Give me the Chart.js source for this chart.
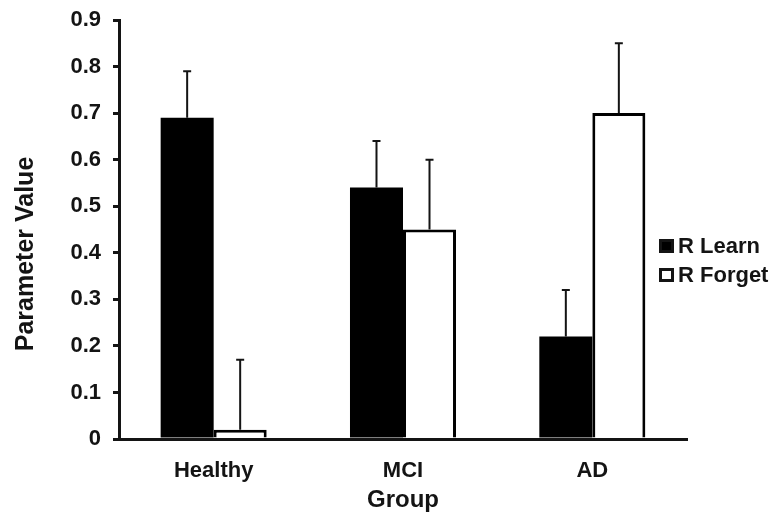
<!DOCTYPE html>
<html lang="en">
<head>
    <meta charset="UTF-8">
    <title>Parameter Value by Group</title>
    <script src="https://cdn.jsdelivr.net/npm/chart.js"></script>
    <style>
        html, body { margin: 0; padding: 0; background: #fff; }
        #wrap { width: 783px; height: 517px; }
    </style>
</head>
<body>
    <div id="wrap"><canvas id="barChart"></canvas></div>

    <script>
        // data
        const groups = ['Healthy', 'MCI', 'AD'];
        const learnValues = [0.69, 0.54, 0.22];
        const learnErrors = [0.10, 0.10, 0.10];
        const forgetValues = [0.02, 0.45, 0.70];
        const forgetErrors = [0.15, 0.15, 0.15];
        const yTicks = [0, 0.1, 0.2, 0.3, 0.4, 0.5, 0.6, 0.7, 0.8, 0.9];
        const yTitle = 'Parameter Value';

        const FONT = '"Liberation Sans", Arial, sans-serif';
        const INK = '#141414';

        // upward error bars with a small cap
        const errorBars = {
            id: 'errorBars',
            afterDatasetsDraw(chart) {
                const ctx = chart.ctx;
                const yScale = chart.scales.y;
                chart.data.datasets.forEach((ds, i) => {
                    const meta = chart.getDatasetMeta(i);
                    meta.data.forEach((bar, j) => {
                        const top = yScale.getPixelForValue(ds.data[j] + ds.errors[j]);
                        ctx.save();
                        ctx.strokeStyle = INK;
                        ctx.lineWidth = 2;
                        ctx.beginPath();
                        ctx.moveTo(bar.x, bar.y);
                        ctx.lineTo(bar.x, top);
                        ctx.moveTo(bar.x - 4, top);
                        ctx.lineTo(bar.x + 4, top);
                        ctx.stroke();
                        ctx.restore();
                    });
                });
            }
        };

        // legend and y title drawn by hand so they sit where the figure has them
        const extras = {
            id: 'extras',
            afterDraw(chart) {
                const ctx = chart.ctx;
                const x = 659, y0 = 246, gap = 29;
                ctx.save();
                ctx.font = 'bold 22px ' + FONT;
                ctx.textBaseline = 'middle';
                chart.data.datasets.forEach((ds, i) => {
                    const y = y0 + i * gap;
                    ctx.fillStyle = INK;
                    ctx.fillRect(x, y - 7, 15, 14);
                    ctx.fillStyle = ds.backgroundColor;
                    ctx.fillRect(x + 3, y - 4, 9, 8);
                    ctx.fillStyle = INK;
                    ctx.fillText(ds.label, x + 19, y + 1);
                });

                ctx.translate(25, 254);
                ctx.rotate(-Math.PI / 2);
                ctx.textAlign = 'center';
                ctx.font = 'bold 25px ' + FONT;
                ctx.fillText(yTitle, 0, 1);
                ctx.restore();
            }
        };

        const ctx = document.getElementById('barChart').getContext('2d');
        const chart = new Chart(ctx, {
            type: 'bar',
            data: {
                labels: groups,
                datasets: [{
                    label: 'R Learn',
                    data: learnValues,
                    errors: learnErrors,
                    backgroundColor: '#000',
                    borderColor: '#000',
                    borderWidth: 0
                }, {
                    label: 'R Forget',
                    data: forgetValues,
                    errors: forgetErrors,
                    backgroundColor: '#fff',
                    borderColor: '#000',
                    borderWidth: 3
                }]
            },
            options: {
                responsive: true,
                maintainAspectRatio: false,
                animation: false,
                layout: { padding: { left: 0, top: 20, right: 96, bottom: 0 } },
                datasets: { bar: { categoryPercentage: 0.56, barPercentage: 1 } },
                plugins: {
                    legend: { display: false },
                    tooltip: { enabled: false }
                },
                scales: {
                    x: {
                        grid: { display: false },
                        border: { color: INK, width: 3 },
                        ticks: { color: INK, font: { family: FONT, size: 22, weight: 'bold' }, padding: 11 },
                        title: { display: true, text: 'Group', color: INK, font: { family: FONT, size: 24, weight: 'bold' }, padding: { top: 0, bottom: 2 } },
                        afterFit(scale) { scale.height = 78; }
                    },
                    y: {
                        min: 0,
                        max: 0.9,
                        afterBuildTicks(scale) { scale.ticks = yTicks.map(v => ({ value: v })); },
                        grid: { drawOnChartArea: false, drawTicks: true, tickLength: 6, color: INK, lineWidth: 3 },
                        border: { color: INK, width: 3 },
                        ticks: {
                            color: INK,
                            font: { family: FONT, size: 22, weight: 'bold' },
                            padding: 12,
                            callback: v => String(+v.toFixed(1))
                        },
                        afterFit(scale) {
                            scale.width = 119;
                            scale.paddingTop = 0;
                            scale.paddingBottom = 0;
                        }
                    }
                }
            },
            plugins: [errorBars, extras]
        });
    </script>
</body>
</html>
